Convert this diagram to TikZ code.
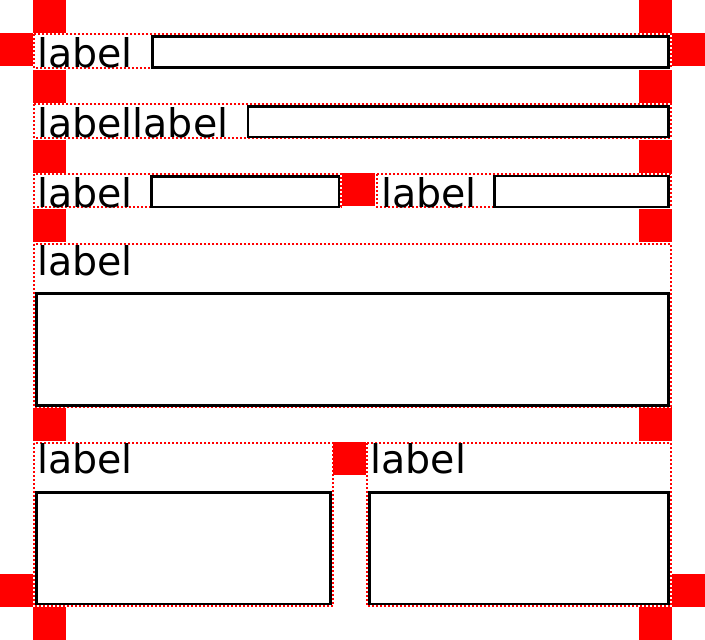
\documentclass[tikz,border=0pt]{standalone}
\usepackage{fontspec}
\setmainfont{DejaVu Sans}
\tikzset{
  sq/.style={fill=red},
  grp/.style={draw=red, line width=2pt, dash pattern=on 2pt off 2pt},
  inbox/.style={draw=black, line width=2.2pt, fill=white},
  lbl/.style={anchor=base west, inner sep=0pt, font=\fontsize{39.5}{41}\selectfont}
}
\begin{document}
\begin{tikzpicture}[x=1pt,y=-1pt]
\useasboundingbox (0,0) rectangle (705,640);
% red squares
\fill[sq] (33,0) rectangle (66,33);
\fill[sq] (639,0) rectangle (672,33);
\fill[sq] (0,33) rectangle (33,66);
\fill[sq] (672,33) rectangle (705,66);
\fill[sq] (33,70) rectangle (66,103);
\fill[sq] (639,70) rectangle (672,103);
\fill[sq] (33,140) rectangle (66,173);
\fill[sq] (639,140) rectangle (672,173);
\fill[sq] (342,173) rectangle (375,206);
\fill[sq] (33,209) rectangle (66,242);
\fill[sq] (639,209) rectangle (672,242);
\fill[sq] (33,408) rectangle (66,441);
\fill[sq] (639,408) rectangle (672,441);
\fill[sq] (333,442) rectangle (366,475);
\fill[sq] (0,574) rectangle (33,607);
\fill[sq] (672,574) rectangle (705,607);
\fill[sq] (33,607) rectangle (66,640);
\fill[sq] (639,607) rectangle (672,640);
% row 1
\draw[grp] (34,34) rectangle (671,68);
\draw[inbox] (152.5,36.5) rectangle (668.5,67.5);
\node[lbl] (l1) at (37,67) {label};
% row 2
\draw[grp] (34,104) rectangle (671,138);
\draw[inbox] (248,106.5) rectangle (668.5,137);
\node[lbl] (l2) at (37,137) {labellabel};
% row 3
\draw[grp] (34,174) rectangle (341,207);
\draw[inbox] (151.5,176.5) rectangle (339,207);
\node[lbl] (l3a) at (37,207) {label};
\draw[grp] (377,174) rectangle (671,207);
\draw[inbox] (494.5,176) rectangle (668.5,207);
\node[lbl] (l3b) at (381,207) {label};
% row 4
\draw[grp] (34,244) rectangle (671,407);
\draw[inbox] (36.5,293.5) rectangle (668.5,405.5);
\node[lbl] (l4) at (37,275) {label};
% row 5
\draw[grp] (34,443) rectangle (333,606);
\draw[inbox] (36.5,492.5) rectangle (330.5,604);
\node[lbl] (l5a) at (37,473) {label};
\draw[grp] (367,443) rectangle (671,606);
\draw[inbox] (369.5,492.5) rectangle (668.5,604);
\node[lbl] (l5b) at (370.5,473) {label};
\end{tikzpicture}
\end{document}
